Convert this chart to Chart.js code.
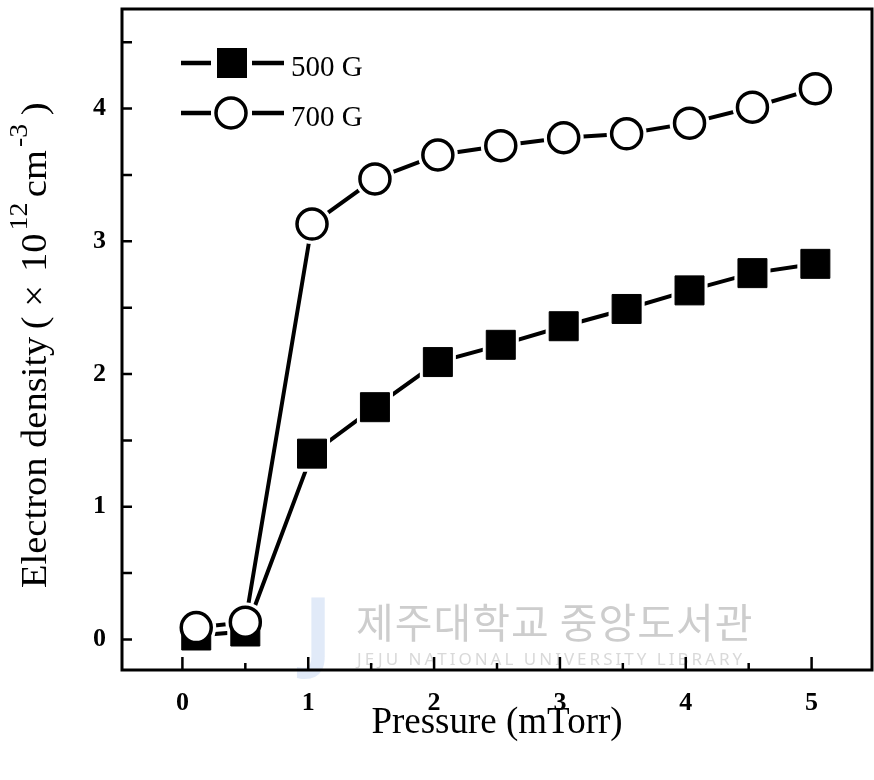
<!DOCTYPE html>
<html>
<head>
<meta charset="utf-8">
<script src="https://cdn.jsdelivr.net/npm/chart.js@4.4.0/dist/chart.umd.min.js"></script>
<style>
  html, body { margin: 0; padding: 0; background: #fff; }
  #wrap { width: 874px; height: 780px; }
</style>
</head>
<body>
<div id="wrap"><canvas id="density-chart" width="874" height="780"></canvas></div>
<script>
// values
const pressure = [0.11, 0.5, 1.03, 1.53, 2.03, 2.53, 3.03, 3.53, 4.03, 4.53, 5.03]
const density500 = [0.03, 0.06, 1.40, 1.75, 2.09, 2.22, 2.36, 2.49, 2.63, 2.76, 2.83]
const density700 = [0.09, 0.13, 3.13, 3.47, 3.65, 3.72, 3.78, 3.81, 3.89, 4.01, 4.15]
const seriesNames = ['500 G', '700 G']
const xTickLabels = ['0', '1', '2', '3', '4', '5']
const yTickLabels = ['0', '1', '2', '3', '4']

const SERIF = '"Liberation Serif", "Times New Roman", serif'

const toPoints = (xs, ys) => xs.map((x, i) => ({x: x, y: ys[i]}))
const pts500 = toPoints(pressure, density500)
const pts700 = toPoints(pressure, density700)

const lineSet = (pts) => ({
    data: pts, borderColor: '#000', borderWidth: 4, pointRadius: 0,
    tension: 0, fill: false, order: 5
})
// halo = white marker under the real one, so lines stop short of the symbols
const markSet = (pts, style, r, bg, border, bw, order) => ({
    data: pts, showLine: false, pointStyle: style, pointRadius: r,
    pointBackgroundColor: bg, pointBorderColor: border,
    pointBorderWidth: bw, order: order
})

// white background + faint library watermark
const paper = {
    id: 'paper',
    beforeDraw(chart) {
        const ctx = chart.ctx
        ctx.save()
        ctx.fillStyle = '#fff'
        ctx.fillRect(0, 0, chart.width, chart.height)
        ctx.restore()
    },
    beforeDatasetsDraw(chart) {
        const ctx = chart.ctx
        ctx.save()
        ctx.fillStyle = 'rgba(170,195,235,0.35)'
        ctx.font = 'bold 88px "Noto Sans", sans-serif'
        ctx.textAlign = 'center'
        ctx.textBaseline = 'alphabetic'
        ctx.fillText('J', 318, 660)
        ctx.fillStyle = '#cdcdcd'
        ctx.font = '41px "Noto Sans CJK KR", sans-serif'
        ctx.textBaseline = 'middle'
        ctx.textAlign = 'left'
        ctx.letterSpacing = '1px'
        ctx.fillText('제주대학교 중앙도서관', 356, 622)
        ctx.fillStyle = '#d9d9d9'
        ctx.font = '17px "Noto Sans", sans-serif'
        ctx.letterSpacing = '3px'
        ctx.fillText('JEJU NATIONAL UNIVERSITY LIBRARY', 357, 660)
        ctx.restore()
    }
}

// inward ticks and closed frame
const frame = {
    id: 'frame',
    afterDatasetsDraw(chart) {
        const {ctx, chartArea: a, scales} = chart
        ctx.save()
        ctx.strokeStyle = '#000'
        ctx.lineWidth = 2.5
        ctx.beginPath()
        scales.x.ticks.forEach(t => {
            const px = scales.x.getPixelForValue(t.value)
            const len = Number.isInteger(t.value) ? 13 : 7
            ctx.moveTo(px, a.bottom)
            ctx.lineTo(px, a.bottom - len)
        })
        scales.y.ticks.forEach(t => {
            const py = scales.y.getPixelForValue(t.value)
            ctx.moveTo(a.left, py)
            ctx.lineTo(a.left + 10, py)
        })
        ctx.stroke()
        ctx.lineWidth = 3
        ctx.strokeRect(a.left, a.top, a.right - a.left, a.bottom - a.top)
        ctx.restore()
    }
}

// legend in the upper left corner: line - marker - line, then label
const keyBox = {
    id: 'keyBox',
    afterDraw(chart) {
        const ctx = chart.ctx
        const rows = [{y: 63, style: 'rect'}, {y: 113, style: 'circle'}]
        ctx.save()
        rows.forEach((row, i) => {
            ctx.strokeStyle = '#000'
            ctx.lineWidth = 4.5
            ctx.beginPath()
            ctx.moveTo(181, row.y); ctx.lineTo(211, row.y)
            ctx.moveTo(252, row.y); ctx.lineTo(284, row.y)
            ctx.stroke()
            if (row.style === 'rect') {
                ctx.fillStyle = '#000'
                ctx.fillRect(217, row.y - 15, 30, 30)
            } else {
                ctx.fillStyle = '#fff'
                ctx.lineWidth = 3.5
                ctx.beginPath()
                ctx.arc(231, row.y, 15, 0, Math.PI * 2)
                ctx.fill()
                ctx.stroke()
            }
            ctx.fillStyle = '#000'
            ctx.font = '29px ' + SERIF
            ctx.textBaseline = 'alphabetic'
            ctx.textAlign = 'left'
            ctx.fillText(seriesNames[i], 291, row.y + 13)
        })
        ctx.restore()
    }
}

// rotated y title with raised exponents
const yTitle = {
    id: 'yTitle',
    afterDraw(chart) {
        const ctx = chart.ctx
        const big = '36px ' + SERIF
        const small = '26px ' + SERIF
        const parts = [
            {t: 'Electron density', f: big, up: 0, gap: 7},
            {t: '(', f: big, up: 0, gap: 9},
            {t: '\u00d7', f: big, up: 0, gap: 12},
            {t: '10', f: big, up: 0, gap: 3},
            {t: '12', f: small, up: 19, gap: 5},
            {t: 'cm', f: big, up: 0, gap: 3},
            {t: '-3', f: small, up: 19, gap: 8},
            {t: ')', f: big, up: 0, gap: 0}
        ]
        ctx.save()
        ctx.translate(46, 588)
        ctx.rotate(-Math.PI / 2)
        ctx.scale(1.07, 1)
        ctx.fillStyle = '#000'
        ctx.textBaseline = 'alphabetic'
        ctx.textAlign = 'left'
        let pos = 0
        parts.forEach(p => {
            ctx.font = p.f
            ctx.fillText(p.t, pos, -p.up)
            pos += ctx.measureText(p.t).width + p.gap
        })
        ctx.restore()
    }
}

let chart = null

const drawChart = () => {
    if (chart) chart.destroy()
    chart = new Chart(document.getElementById('density-chart'), {
        type: 'line',
        data: {
            datasets: [
                lineSet(pts500),
                lineSet(pts700),
                markSet(pts500, 'rect', 25.5, '#fff', '#fff', 0, 4),
                markSet(pts700, 'circle', 20, '#fff', '#fff', 0, 4),
                markSet(pts500, 'rect', 20.5, '#000', '#000', 1, 3),
                markSet(pts700, 'circle', 15, '#fff', '#000', 3.5, 2)
            ]
        },
        options: {
            responsive: false,
            animation: false,
            events: [],
            layout: {autoPadding: false, padding: {top: 9, right: 2, left: 0, bottom: 0}},
            plugins: {legend: {display: false}, tooltip: {enabled: false}},
            scales: {
                x: {
                    type: 'linear',
                    min: -0.48, max: 5.48,
                    grid: {display: false, drawTicks: false},
                    border: {display: false},
                    ticks: {
                        stepSize: 0.5, includeBounds: false, autoSkip: false,
                        maxRotation: 0, padding: 18, color: '#000',
                        font: {family: SERIF, size: 26, weight: 'bold'},
                        callback: v => Number.isInteger(v) ? xTickLabels[v] : ''
                    },
                    title: {
                        display: true, text: 'Pressure (mTorr)', color: '#000',
                        font: {family: SERIF, size: 37},
                        padding: {top: 0, bottom: 35}
                    },
                    afterFit(scale) {
                        scale.height = 110
                        scale.paddingLeft = 0
                        scale.paddingRight = 0
                    }
                },
                y: {
                    type: 'linear',
                    min: -0.23, max: 4.75,
                    grid: {display: false, drawTicks: false},
                    border: {display: false},
                    ticks: {
                        stepSize: 0.5, includeBounds: false, autoSkip: false,
                        padding: 16, color: '#000',
                        font: {family: SERIF, size: 26, weight: 'bold'},
                        callback: v => Number.isInteger(v) ? yTickLabels[v] : ''
                    },
                    afterFit(scale) {
                        scale.width = 122
                        scale.paddingTop = 0
                        scale.paddingBottom = 0
                    }
                }
            }
        },
        plugins: [paper, frame, keyBox, yTitle]
    })
}

try {
    drawChart()
} catch (e) {
    console.log(e)
}
</script>
</body>
</html>
